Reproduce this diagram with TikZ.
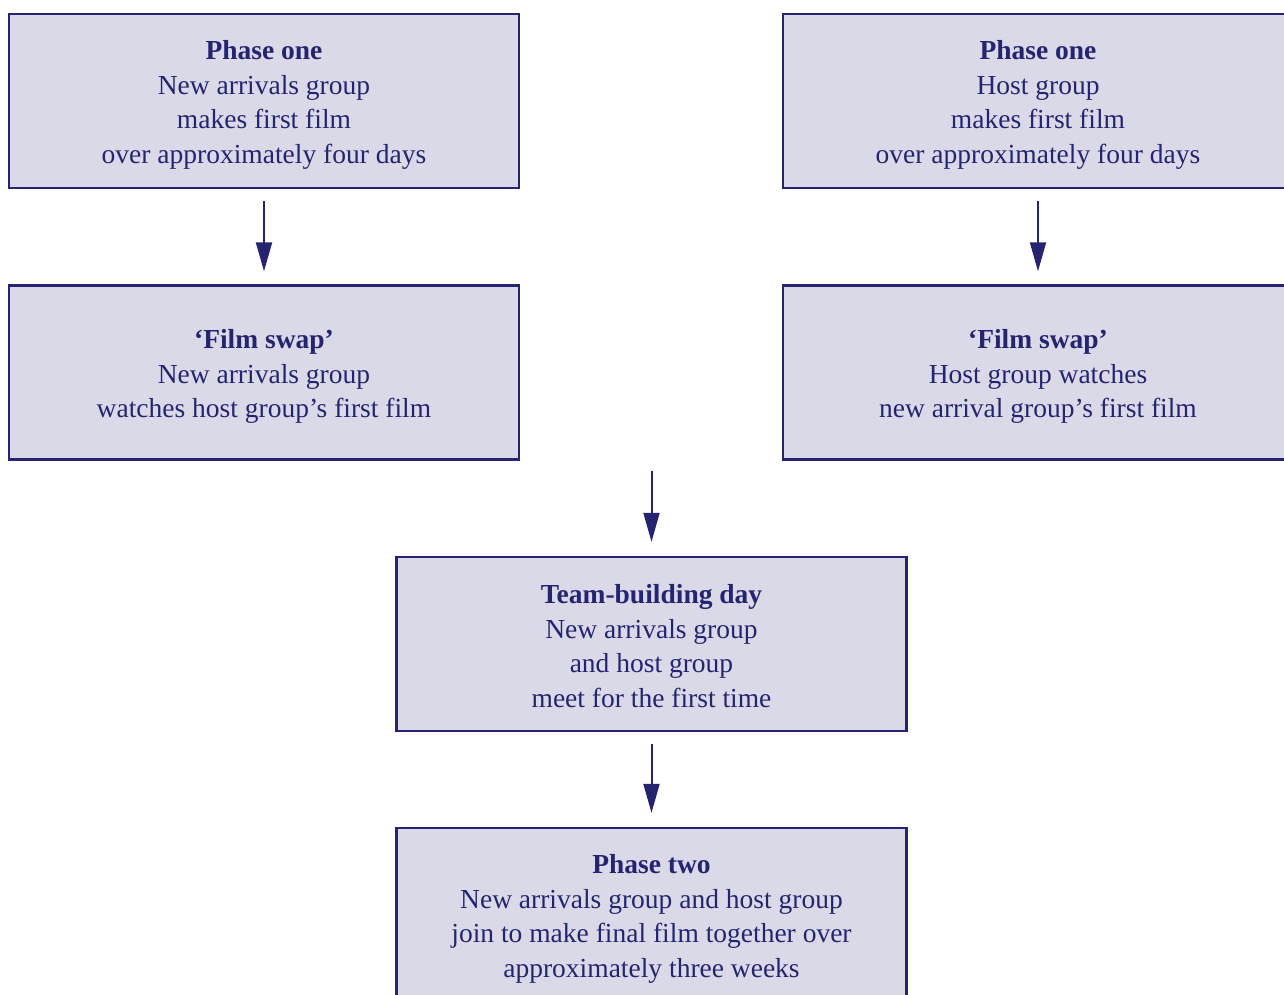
\documentclass[tikz,border=0pt]{standalone}
\usepackage{fontspec}
\setmainfont{Liberation Serif}
\usetikzlibrary{arrows.meta}
\definecolor{navy}{HTML}{27246F}
\definecolor{boxfill}{HTML}{D9D9E8}
\begin{document}
\begin{tikzpicture}[x=1pt,y=-1pt,
  stagebox/.style={draw=navy,fill=boxfill,line width=2.4pt,minimum width=510pt,minimum height=174pt,inner sep=0pt},
  stagetext/.style={inner sep=0pt,align=center,text=navy,font=\fontsize{27.5}{34.8}\selectfont},
  flow/.style={draw=navy,line width=2pt,-{Triangle[length=29pt,width=16pt]}}]
\useasboundingbox (0,0) rectangle (1284,994);
\begin{scope}
\clip (0,0) rectangle (1284,994);
\node[stagebox] (p1a) at (264,101) {};
\node[stagebox] (p1b) at (1038,101) {};
\node[stagebox] (swa) at (264,372.5) {};
\node[stagebox] (swb) at (1038,372.5) {};
\node[stagebox] (team) at (651.5,644) {};
\node[stagebox] (p2) at (651.5,915) {};
\end{scope}
\node[stagetext] (p1at) at ([yshift=-4pt]p1a.center) {\textbf{Phase one}\\New arrivals group\\makes first film\\over approximately four days};
\node[stagetext] (p1bt) at ([yshift=-4pt]p1b.center) {\textbf{Phase one}\\Host group\\makes first film\\over approximately four days};
\node[stagetext] (swat) at ([yshift=-4pt]swa.center) {\textbf{‘Film swap’}\\New arrivals group\\watches host group’s first film};
\node[stagetext] (swbt) at ([yshift=-4pt]swb.center) {\textbf{‘Film swap’}\\Host group watches\\new arrival group’s first film};
\node[stagetext] (teamt) at ([yshift=-2pt]team.center) {\textbf{Team-building day}\\New arrivals group\\and host group\\meet for the first time};
\node[stagetext] (p2t) at ([yshift=-4pt]p2.center) {\textbf{Phase two}\\New arrivals group and host group\\join to make final film together over\\approximately three weeks};
\coordinate (join) at (651.5,471);
\draw[flow,shorten <=12pt,shorten >=13pt] (p1a.south) -- (swa.north);
\draw[flow,shorten <=12pt,shorten >=13pt] (p1b.south) -- (swb.north);
\draw[flow,shorten >=14pt] (join) -- (team.north);
\draw[flow,shorten <=12pt,shorten >=14pt] (team.south) -- (p2.north);
\end{tikzpicture}
\end{document}
